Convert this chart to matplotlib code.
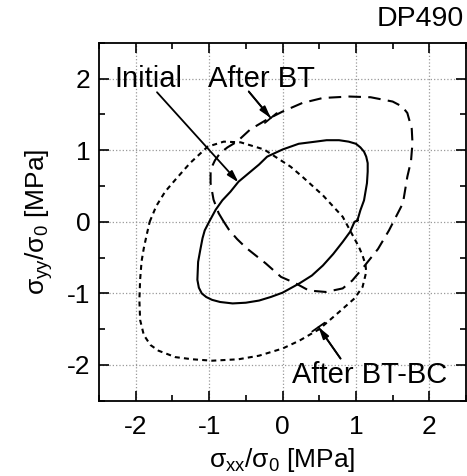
import numpy as np
import matplotlib
matplotlib.use('Agg')
import matplotlib.pyplot as plt

plt.rcParams['font.family'] = ['Liberation Sans', 'DejaVu Sans']
plt.rcParams['mathtext.fontset'] = 'custom'
plt.rcParams['mathtext.rm'] = 'Liberation Sans'
plt.rcParams['mathtext.it'] = 'Liberation Sans'

# yield loci (sigma_xx/sigma_0, sigma_yy/sigma_0)
initial_x = [1.02, 1.06, 1.11, 1.15, 1.16, 1.16, 1.14, 1.11, 1.06, 1.0, 0.9, 0.77, 0.6, 0.45,
             0.22, 0.0, -0.21, -0.32, -0.46, -0.6, -0.71, -0.82, -0.91, -1.0, -1.06, -1.09,
             -1.12, -1.15, -1.16, -1.14, -1.10, -1.04, -0.96, -0.85, -0.68, -0.5, -0.32, -0.16,
             0.0, 0.23, 0.4, 0.55, 0.69, 0.82, 0.92, 0.98, 1.02]
initial_y = [0.02, 0.16, 0.30, 0.54, 0.70, 0.82, 0.91, 0.98, 1.04, 1.09, 1.12, 1.14, 1.14, 1.12,
             1.09, 1.01, 0.91, 0.80, 0.68, 0.56, 0.42, 0.30, 0.17, 0.0, -0.12, -0.23,
             -0.39, -0.56, -0.81, -0.92, -1.0, -1.05, -1.09, -1.12, -1.14, -1.13, -1.10, -1.05,
             -0.99, -0.86, -0.75, -0.61, -0.45, -0.28, -0.14, 0.0, 0.02]

bt_x = [-0.80, -0.87, -0.94, -0.98, -0.98, -0.92, -0.85, -0.75, -0.62, -0.44, -0.21, 0.0,
        0.27, 0.55, 0.91, 1.2, 1.5, 1.63, 1.70, 1.76, 1.77, 1.75, 1.70, 1.64, 1.52, 1.45,
        1.3, 1.09, 0.95, 0.82, 0.59, 0.36, 0.18, -0.02, -0.23, -0.5, -0.62, -0.73, -0.80]
bt_y = [0.0, 0.12, 0.31, 0.54, 0.73, 0.86, 0.96, 1.04, 1.12, 1.29, 1.43, 1.54,
        1.66, 1.73, 1.75, 1.74, 1.68, 1.61, 1.52, 1.30, 1.10, 0.85, 0.63, 0.26, 0.02, -0.12,
        -0.38, -0.65, -0.82, -0.93, -0.98, -0.96, -0.86, -0.77, -0.58, -0.36, -0.24, -0.11, 0.0]

btbc_x = [-1.81, -1.72, -1.6, -1.45, -1.26, -1.02, -0.80, -0.57, -0.25, 0.11, 0.27,
          0.55, 0.82, 0.93, 1.04, 1.09, 1.13, 1.14, 1.09, 0.98, 0.77, 0.5, 0.23, 0.0,
          -0.32, -0.60, -0.96, -1.23, -1.46, -1.69, -1.80, -1.89, -1.94, -1.95, -1.94,
          -1.92, -1.89, -1.85, -1.81]
btbc_y = [0.0, 0.22, 0.42, 0.6, 0.82, 1.05, 1.12, 1.11, 1.01, 0.77, 0.63,
          0.37, 0.07, -0.14, -0.35, -0.47, -0.6, -0.70, -0.91, -1.07, -1.26, -1.50, -1.66, -1.77,
          -1.87, -1.92, -1.94, -1.92, -1.89, -1.80, -1.72, -1.58, -1.37, -1.09, -0.81,
          -0.55, -0.37, -0.18, 0.0]

ticks = [-2, -1, 0, 1, 2]

# labels: (text, text pos, arrow start, arrow tip, bar at tip)
labels = [('Initial', (-1.83, 2.0), (-1.71, 1.81), (-0.6, 0.55), False),
          ('After BT', (-0.29, 2.0), (-0.46, 1.82), (-0.16, 1.45), True),
          ('After BT-BC', (1.19, -2.14), (0.79, -1.91), (0.49, -1.47), True)]

fig = plt.figure(figsize=(4.67, 4.76), dpi=100)
ax = fig.add_axes([0.212, 0.158, 0.786, 0.752])

ax.plot(initial_x, initial_y, color='black', lw=1.5, ls='-')
ax.plot(bt_x, bt_y, color='black', lw=1.5, ls=(0, (6, 3.5)))
ax.plot(btbc_x, btbc_y, color='black', lw=1.5, ls=(0, (2.4, 2)))

ax.set_xlim(-2.5, 2.5)
ax.set_ylim(-2.5, 2.5)
ax.set_xticks(ticks)
ax.set_yticks(ticks)
ax.set_xticks(np.arange(-2.5, 2.6, 0.5), minor=True)
ax.set_yticks(np.arange(-2.5, 2.6, 0.5), minor=True)
ax.tick_params(which='both', direction='in', top=True, right=True, width=1.2)
ax.tick_params(which='major', length=7, labelsize=19)
ax.tick_params(axis='x', which='major', pad=10)
ax.tick_params(axis='y', which='major', pad=6)
ax.tick_params(which='minor', length=4)
ax.set_xticklabels([str(t) for t in ticks])
ax.set_yticklabels([str(t) for t in ticks])
ax.grid(True, which='major', ls=':', color='#999999', lw=0.9)
for s in ax.spines.values():
    s.set_linewidth(1.3)

ax.set_xlabel(r'$\sigma_{xx}/\sigma_0$ [MPa]', fontsize=19, labelpad=5)
ax.set_ylabel(r'$\sigma_{yy}/\sigma_0$ [MPa]', fontsize=19, labelpad=9)
ax.text(0.995, 1.03, 'DP490', transform=ax.transAxes, ha='right', va='bottom', fontsize=20.5)

for txt, tpos, start, tip, bar in labels:
    ax.text(tpos[0], tpos[1], txt, fontsize=21, ha='center', va='center')
    ax.annotate('', xy=tip, xytext=start,
                arrowprops=dict(arrowstyle='-|>,head_length=0.7,head_width=0.2', color='black',
                                lw=1.3, shrinkA=0, shrinkB=0))
    if bar:
        ax.annotate('', xy=tip, xytext=start,
                    arrowprops=dict(arrowstyle='-[,widthB=0.55,lengthB=0', color='black',
                                    lw=1.3, shrinkA=0, shrinkB=0))

fig.savefig('out.png', dpi=100)
